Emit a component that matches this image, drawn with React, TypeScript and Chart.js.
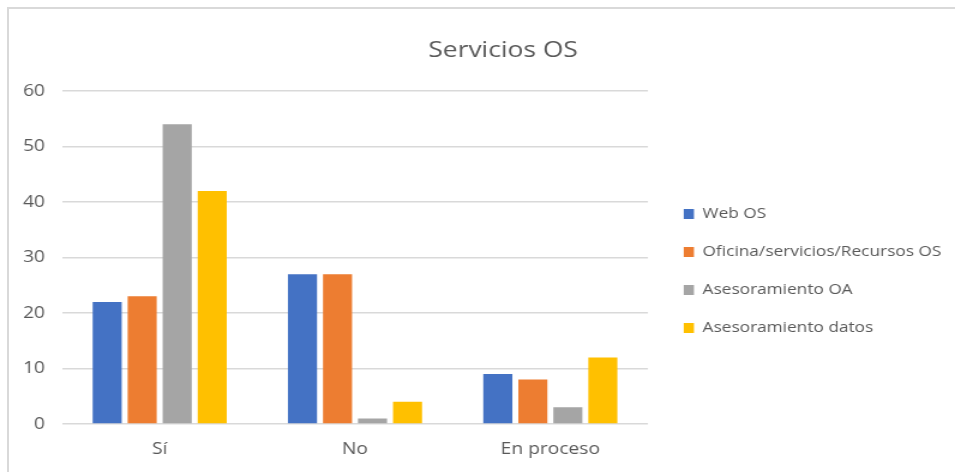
import React, { useEffect, useRef } from "react";
import { Chart, registerables } from "chart.js";

Chart.register(...registerables);

const categories = ["Sí", "No", "En proceso"];
const seriesNames = [
  "Web OS",
  "Oficina/servicios/Recursos OS",
  "Asesoramiento OA",
  "Asesoramiento datos",
];
const webOS = [22, 27, 9];
const oficina = [23, 27, 8];
const asesoramientoOA = [54, 1, 3];
const asesoramientoDatos = [42, 4, 12];
const seriesColors = ["#4472C4", "#ED7D31", "#A5A5A5", "#FFC000"];
const yTicks = [0, 10, 20, 30, 40, 50, 60];
const chartTitle = "Servicios OS";

const FONT = "'Open Sans', 'Liberation Sans', sans-serif";
const TEXT = "#595959";
const GRID = "#D9D9D9";

// The reference image is horizontally stretched; the chart is drawn on a
// narrower bitmap and displayed at the full page width.
const VIEW_W = 955;
const VIEW_H = 472;
const CANVAS_W = 796;

export default function App() {
  const ref = useRef<HTMLCanvasElement | null>(null);

  useEffect(() => {
    if (!ref.current) return;
    const values = [webOS, oficina, asesoramientoOA, asesoramientoDatos];
    const chart = new Chart(ref.current, {
      type: "bar",
      data: {
        labels: categories,
        datasets: seriesNames.map((name, i) => ({
          label: name,
          data: values[i],
          backgroundColor: seriesColors[i],
          borderWidth: 0,
          categoryPercentage: 0.717,
          barPercentage: 0.83,
        })),
      },
      options: {
        responsive: false,
        animation: false,
        layout: { padding: { left: 51.7, right: 9.1, top: 0, bottom: 0 } },
        plugins: {
          title: {
            display: true,
            text: chartTitle,
            color: TEXT,
            font: { family: FONT, size: 22, weight: "normal", lineHeight: 1.2 },
            padding: { top: 37.8, bottom: 26.8 },
          },
          legend: {
            display: true,
            position: "right",
            fullSize: false,
            align: "center",
            maxWidth: 240.6,
            title: {
              display: true,
              text: "",
              font: { size: 10, lineHeight: 1.2 },
              padding: { top: 15, bottom: 0 },
            },
            labels: {
              boxWidth: 8.5,
              boxHeight: 10,
              padding: 23.6,
              color: TEXT,
              font: { family: FONT, size: 14.4 },
            },
          },
          tooltip: { enabled: false },
        },
        scales: {
          x: {
            afterFit: (scale: any) => {
              scale.height = 48;
            },
            grid: { display: false, drawTicks: false },
            border: { display: false },
            ticks: {
              color: TEXT,
              padding: 15.5,
              maxRotation: 0,
              font: { family: FONT, size: 16 },
            },
          },
          y: {
            min: 0,
            max: 60,
            afterFit: (scale: any) => {
              scale.width = 0;
            },
            afterBuildTicks: (scale: any) => {
              scale.ticks = yTicks.map((v) => ({ value: v }));
            },
            grid: { color: GRID, lineWidth: 1.5, drawTicks: false },
            border: { display: false },
            ticks: {
              color: TEXT,
              mirror: true,
              crossAlign: "far",
              padding: -32.5,
              font: { family: FONT, size: 16 },
            },
          },
          y2: {
            position: "right",
            display: true,
            afterFit: (scale: any) => {
              scale.width = 6.2;
            },
            grid: { display: false, drawTicks: false },
            border: { display: false },
            ticks: { display: false },
          },
        },
      },
    });
    return () => chart.destroy();
  }, []);

  return (
    <div
      style={{
        position: "fixed",
        left: 0,
        top: 0,
        width: VIEW_W,
        height: VIEW_H,
        background: "#ffffff",
        overflow: "hidden",
      }}
    >
      <div
        style={{
          position: "absolute",
          left: 7,
          top: 7,
          width: VIEW_W - 7,
          height: VIEW_H - 7,
          borderTop: "2px solid #D9D9D9",
          borderLeft: "2px solid #D9D9D9",
        }}
      />
      <canvas
        ref={ref}
        width={CANVAS_W}
        height={VIEW_H}
        style={{
          position: "absolute",
          left: 0,
          top: 0,
          width: VIEW_W,
          height: VIEW_H,
        }}
      />
    </div>
  );
}
